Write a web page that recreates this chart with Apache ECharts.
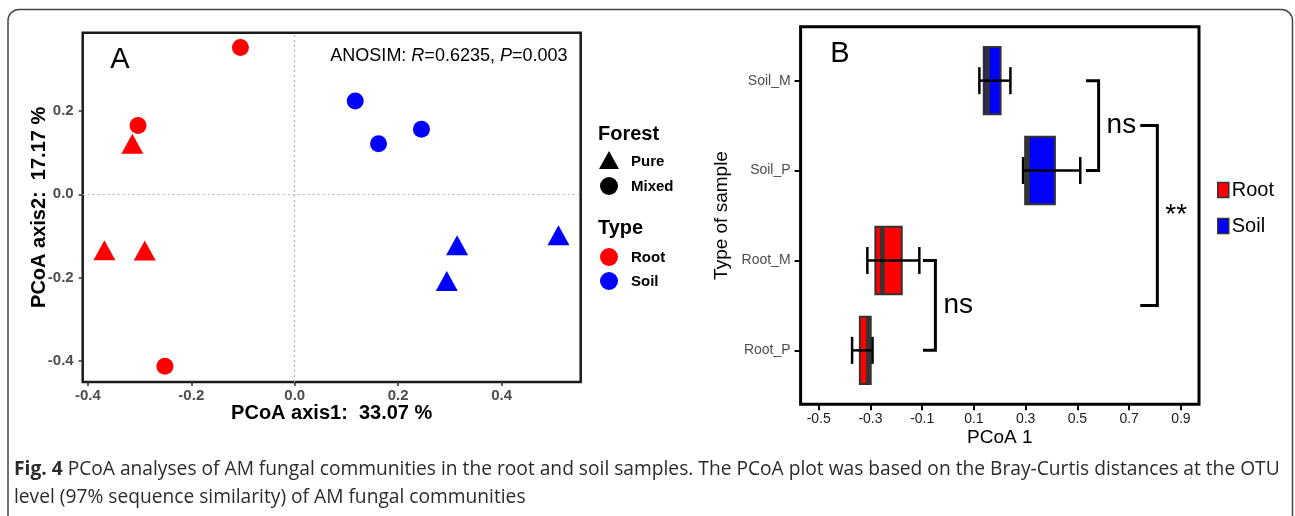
<!DOCTYPE html>
<html><head><meta charset="utf-8">
<script src="https://cdn.jsdelivr.net/npm/echarts@6/dist/echarts.min.js"></script>
<style>html,body{margin:0;padding:0;background:#fff}#c{width:1295px;height:516px}</style>
</head><body><div id="c"></div>
<script>
// ---------- Panel A: PCoA scores ----------
const rootPureX  = [-0.314, -0.368, -0.290];
const rootPureY  = [ 0.121, -0.134, -0.135];
const rootMixedX = [-0.105, -0.303, -0.251];
const rootMixedY = [ 0.352,  0.165, -0.412];
const soilPureX  = [ 0.314,  0.294,  0.510];
const soilPureY  = [-0.122, -0.208, -0.098];
const soilMixedX = [ 0.117,  0.162,  0.245];
const soilMixedY = [ 0.224,  0.121,  0.156];
const xTicksA = ['-0.4', '-0.2', '0.0', '0.2', '0.4'];
const yTicksA = ['-0.4', '-0.2', '0.0', '0.2'];

// ---------- Panel B: PCoA 1 by sample type ----------
const samplesB = ['Root_P', 'Root_M', 'Soil_P', 'Soil_M'];
const groupB   = ['Root', 'Root', 'Soil', 'Soil'];
const errLowB  = [-0.371, -0.312, 0.290, 0.121];
const boxLowB  = [-0.341, -0.281, 0.298, 0.138];
const medianB  = [-0.308, -0.254, 0.307, 0.152];
const boxHighB = [-0.299, -0.179, 0.413, 0.203];
const errHighB = [-0.292, -0.111, 0.511, 0.241];
const xTicksB  = ['-0.5', '-0.3', '-0.1', '0.1', '0.3', '0.5', '0.7', '0.9'];
const bracketLabel = ['ns', 'ns', '**'];
const bracketArm   = [0.533, -0.097, 0.743];
const bracketX     = [0.582, -0.049, 0.809];
const bracketFrom  = [3, 1, 1.5];
const bracketTo    = [4, 2, 3.5];

// ---------- layout ----------
const FONT = 'Liberation Sans';
const gA = {left: 82.7, top: 32.7, width: 498, height: 349.3};
const xA = {min: -0.41, max: 0.553}, yA = {min: -0.450, max: 0.3875};
const gB = {left: 800.6, top: 26.7, width: 398.4, height: 377.6};
const xB = {min: -0.57, max: 0.97}, yB = {min: 0.4, max: 4.6};

const pxX = (g, ax, v) => g.left + (v - ax.min) / (ax.max - ax.min) * g.width;
const pxY = (g, ax, v) => g.top + (ax.max - v) / (ax.max - ax.min) * g.height;

const xA0 = pxX(gA, xA, parseFloat(xTicksA[0])), xA1 = pxX(gA, xA, parseFloat(xTicksA[xTicksA.length-1]));
const yA0 = pxY(gA, yA, parseFloat(yTicksA[yTicksA.length-1])), yA1 = pxY(gA, yA, parseFloat(yTicksA[0]));
const xB0 = pxX(gB, xB, parseFloat(xTicksB[0])), xB1 = pxX(gB, xB, parseFloat(xTicksB[xTicksB.length-1]));
const yB0 = pxY(gB, yB, samplesB.length), yB1 = pxY(gB, yB, 1);

const zip = (a, b) => a.map((v, i) => [v, b[i]]);

const hiddenVal = (gi) => ({type: 'value', gridIndex: gi, show: false, min: 0, max: 1});
const tickCat = (gi, data, pos, extra) => Object.assign({
  type: 'category', gridIndex: gi, data: data, boundaryGap: false, position: pos,
  axisLine: {show: false}, splitLine: {show: false},
  axisTick: {show: true, interval: 0, length: 4, lineStyle: {color: '#333', width: 1.5}},
  axisLabel: {interval: 0, color: '#4d4d4d', fontWeight: 'bold', fontSize: 15, fontFamily: FONT, margin: 6}
}, extra || {});

const boxRows = samplesB.map((s, i) => [i + 1, errLowB[i], boxLowB[i], medianB[i], boxHighB[i], errHighB[i]]);
function rowsFor(g) { return boxRows.filter((r, i) => groupB[i] === g); }

function renderBox(params, api) {
  const y = api.value(0);
  const pEL = api.coord([api.value(1), y]);
  const pBL = api.coord([api.value(2), y]);
  const pMd = api.coord([api.value(3), y]);
  const pBH = api.coord([api.value(4), y]);
  const pEH = api.coord([api.value(5), y]);
  const h = api.size([0, 0.75])[1];
  const cap = api.size([0, 0.3])[1];
  const cy = pBL[1];
  const lw = 2.5;
  return {type: 'group', children: [
    {type: 'rect', shape: {x: pBL[0], y: cy - h / 2, width: pBH[0] - pBL[0], height: h},
     style: {fill: api.visual('color'), stroke: '#333', lineWidth: 2}},
    {type: 'line', shape: {x1: pMd[0], y1: cy - h / 2, x2: pMd[0], y2: cy + h / 2},
     style: {stroke: '#333', lineWidth: 4.5}},
    {type: 'line', shape: {x1: pEL[0], y1: cy, x2: pEH[0], y2: cy}, style: {stroke: '#000', lineWidth: lw}},
    {type: 'line', shape: {x1: pEL[0], y1: cy - cap / 2, x2: pEL[0], y2: cy + cap / 2}, style: {stroke: '#000', lineWidth: lw}},
    {type: 'line', shape: {x1: pEH[0], y1: cy - cap / 2, x2: pEH[0], y2: cy + cap / 2}, style: {stroke: '#000', lineWidth: lw}}
  ]};
}

function renderBracket(params, api) {
  const i = params.dataIndex;
  const a1 = api.coord([api.value(0), api.value(2)]);
  const v1 = api.coord([api.value(1), api.value(2)]);
  const v2 = api.coord([api.value(1), api.value(3)]);
  const a2 = api.coord([api.value(0), api.value(3)]);
  return {type: 'group', children: [
    {type: 'polyline', shape: {points: [a1, v1, v2, a2]}, style: {stroke: '#000', lineWidth: 3, fill: null}},
    {type: 'text', x: v1[0] + 8, y: (v1[1] + v2[1]) / 2,
     style: {text: bracketLabel[i], fill: '#000', font: '28px ' + FONT, textAlign: 'left', textVerticalAlign: 'middle'}}
  ]};
}

const markerSeries = (name, xs, ys, color, symbol, size) => ({
  type: 'scatter', name: name, xAxisIndex: 0, yAxisIndex: 0, data: zip(xs, ys),
  symbol: symbol, symbolSize: size, itemStyle: {color: color, opacity: 1}, silent: true
});

const legA = [];
function legText(t, x, y, size) {
  legA.push({type: 'text', x: x, y: y, style: {text: t, font: 'bold ' + size + 'px ' + FONT, fill: '#000', textVerticalAlign: 'middle'}});
}
legText('Forest', 598, 134, 20);
legA.push({type: 'polygon', shape: {points: [[609, 151], [619, 169], [599, 169]]}, style: {fill: '#000'}});
legText('Pure', 631, 162, 15);
legA.push({type: 'circle', shape: {cx: 609, cy: 186, r: 9}, style: {fill: '#000'}});
legText('Mixed', 631, 187, 15);
legText('Type', 598, 228, 20);
legA.push({type: 'circle', shape: {cx: 609, cy: 257, r: 9}, style: {fill: '#ff0000'}});
legText('Root', 631, 258, 15);
legA.push({type: 'circle', shape: {cx: 609, cy: 281, r: 9}, style: {fill: '#0000ff'}});
legText('Soil', 631, 282, 15);

const captionRest = ' PCoA analyses of AM fungal communities in the root and soil samples. The PCoA plot was based on the Bray-Curtis distances at the OTU';
const captionLine2 = 'level (97% sequence similarity) of AM fungal communities';
const CAP_SIZE = 19.2;

const option = {
  animation: false,
  textStyle: {fontFamily: FONT},
  grid: [
    Object.assign({show: true, borderColor: '#1a1a1a', borderWidth: 2.5, backgroundColor: 'transparent'}, gA),
    {left: xA0, width: xA1 - xA0, top: gA.top, height: gA.height, show: false},
    {left: gA.left, width: gA.width, top: yA0, height: yA1 - yA0, show: false},
    Object.assign({show: true, borderColor: '#000', borderWidth: 3, backgroundColor: 'transparent'}, gB),
    {left: xB0, width: xB1 - xB0, top: gB.top, height: gB.height, show: false},
    {left: gB.left, width: gB.width, top: yB0, height: yB1 - yB0, show: false}
  ],
  xAxis: [
    {type: 'value', gridIndex: 0, min: xA.min, max: xA.max, axisLine: {show: false}, axisTick: {show: false},
     axisLabel: {show: false}, splitLine: {show: false},
     name: 'PCoA axis1:  33.07 %', nameLocation: 'middle', nameGap: 21,
     nameTextStyle: {fontSize: 20, fontWeight: 'bold', color: '#000', fontFamily: FONT}},
    tickCat(1, xTicksA, 'bottom'),
    hiddenVal(2),
    {type: 'value', gridIndex: 3, min: xB.min, max: xB.max, axisLine: {show: false}, axisTick: {show: false},
     axisLabel: {show: false}, splitLine: {show: false},
     name: 'PCoA 1', nameLocation: 'middle', nameGap: 24,
     nameTextStyle: {fontSize: 19, color: '#000', fontFamily: FONT}},
    tickCat(4, xTicksB, 'bottom', {
      axisTick: {show: true, interval: 0, length: 6, lineStyle: {color: '#000', width: 2}},
      axisLabel: {interval: 0, color: '#1a1a1a', fontSize: 14, fontFamily: FONT, margin: 8}}),
    hiddenVal(5)
  ],
  yAxis: [
    {type: 'value', gridIndex: 0, min: yA.min, max: yA.max, axisLine: {show: false}, axisTick: {show: false},
     axisLabel: {show: false}, splitLine: {show: false},
     name: 'PCoA axis2:  17.17 %', nameLocation: 'middle', nameGap: 33, nameRotate: 90,
     nameTextStyle: {fontSize: 20, fontWeight: 'bold', color: '#000', fontFamily: FONT}},
    hiddenVal(1),
    tickCat(2, yTicksA, 'left', {axisLabel: {interval: 0, color: '#4d4d4d', fontWeight: 'bold', fontSize: 15, fontFamily: FONT, margin: 9}}),
    {type: 'value', gridIndex: 3, min: yB.min, max: yB.max, axisLine: {show: false}, axisTick: {show: false},
     axisLabel: {show: false}, splitLine: {show: false},
     name: 'Type of sample', nameLocation: 'middle', nameGap: 69, nameRotate: 90,
     nameTextStyle: {fontSize: 19, color: '#000', fontFamily: FONT}},
    hiddenVal(4),
    tickCat(5, samplesB, 'left', {
      axisTick: {show: true, interval: 0, length: 6, lineStyle: {color: '#000', width: 2}},
      axisLabel: {interval: 0, color: '#4d4d4d', fontSize: 14, fontFamily: FONT, margin: 10}})
  ],
  legend: {
    data: ['Root', 'Soil'], orient: 'vertical', left: 1212, top: 175, itemWidth: 11, itemHeight: 15, itemGap: 16,
    icon: 'rect', itemStyle: {borderColor: '#333', borderWidth: 1.5}, selectedMode: false,
    textStyle: {fontSize: 20, color: '#000', fontFamily: FONT, padding: [0, 0, 0, -2]}
  },
  series: [
    Object.assign(markerSeries('Root pure', rootPureX, rootPureY, '#ff0000', 'triangle', [22, 20]), {
      markLine: {silent: true, symbol: 'none', label: {show: false},
        lineStyle: {type: [2, 3], color: '#b3b3b3', width: 1.2},
        data: [{xAxis: 0}, {yAxis: 0}]}
    }),
    markerSeries('Root mixed', rootMixedX, rootMixedY, '#ff0000', 'circle', 17),
    markerSeries('Soil pure', soilPureX, soilPureY, '#0000ff', 'triangle', [22, 20]),
    markerSeries('Soil mixed', soilMixedX, soilMixedY, '#0000ff', 'circle', 17),
    {type: 'custom', name: 'Root', xAxisIndex: 3, yAxisIndex: 3, renderItem: renderBox,
     itemStyle: {color: '#ff0000'}, data: rowsFor('Root'), encode: {x: [1, 2, 3, 4, 5], y: 0}},
    {type: 'custom', name: 'Soil', xAxisIndex: 3, yAxisIndex: 3, renderItem: renderBox,
     itemStyle: {color: '#0000ff'}, data: rowsFor('Soil'), encode: {x: [1, 2, 3, 4, 5], y: 0}},
    {type: 'custom', name: 'brackets', xAxisIndex: 3, yAxisIndex: 3, renderItem: renderBracket,
     data: bracketLabel.map((l, i) => [bracketArm[i], bracketX[i], bracketFrom[i], bracketTo[i]]),
     encode: {x: [0, 1], y: [2, 3]}, silent: true}
  ],
  graphic: [
    {type: 'rect', shape: {x: 8, y: 9.5, width: 1284.5, height: 530, r: 11}, style: {fill: null, stroke: '#444', lineWidth: 1.5}, silent: true},
    {type: 'text', x: 120, y: 59.5, style: {text: 'A', font: '29px ' + FONT, fill: '#000', textAlign: 'center', textVerticalAlign: 'middle'}},
    {type: 'text', x: 840, y: 53.5, style: {text: 'B', font: '29px ' + FONT, fill: '#000', textAlign: 'center', textVerticalAlign: 'middle'}},
    {type: 'text', x: 567.5, y: 56, style: {
      text: 'ANOSIM: {i|R}=0.6235, {i|P}=0.003', font: '18px ' + FONT, fill: '#000', textAlign: 'right', textVerticalAlign: 'middle',
      rich: {i: {fontStyle: 'italic', fontSize: 18, fontFamily: FONT, fill: '#000'}}}},
    {type: 'group', children: legA},
    {type: 'text', x: 14, y: 470, style: {
      text: '{b|Fig. 4}' + captionRest, font: CAP_SIZE + 'px "Open Sans"', fill: '#2b2b2b', textVerticalAlign: 'middle',
      rich: {b: {fontWeight: 'bold', fontSize: CAP_SIZE, fontFamily: 'Open Sans', fill: '#2b2b2b'}}}},
    {type: 'text', x: 14, y: 498, style: {text: captionLine2, font: CAP_SIZE + 'px "Open Sans"', fill: '#2b2b2b', textVerticalAlign: 'middle'}}
  ]
};

const chart = echarts.init(document.getElementById('c'), null, {renderer: 'canvas'});
chart.setOption(option);
</script>
</body></html>
